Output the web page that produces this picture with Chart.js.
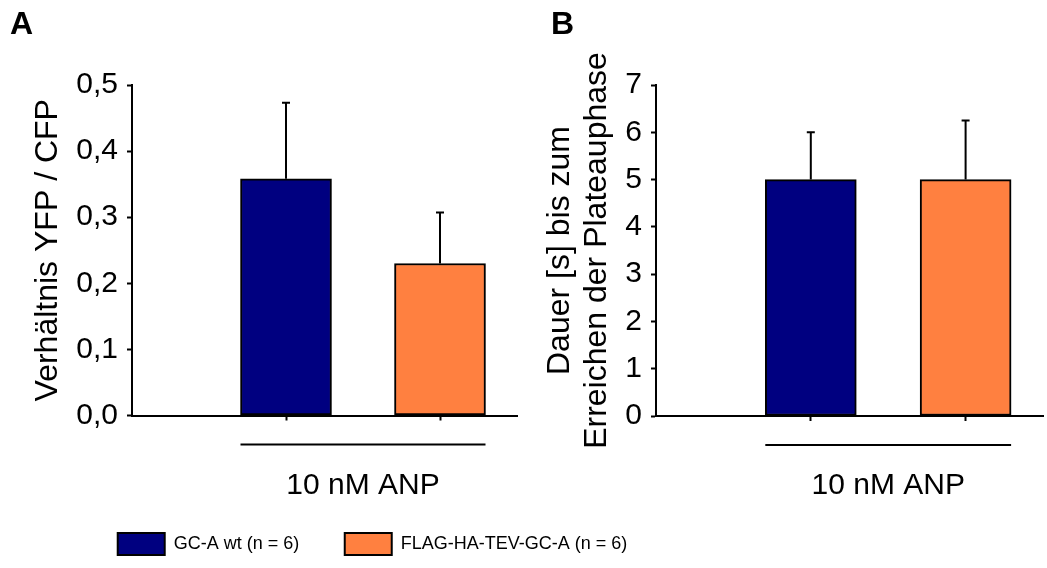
<!DOCTYPE html>
<html lang="de">
<head>
    <meta charset="UTF-8">
    <title>FRET GC-A</title>
    <script src="https://cdn.jsdelivr.net/npm/chart.js"></script>
    <style>
        body {
            margin: 0;
            background: #fff;
        }
        .figure {
            position: relative;
            width: 1047px;
            height: 568px;
        }
        .figure canvas {
            position: absolute;
            top: 0;
        }
        #chartA { left: 0; }
        #chartB { left: 520px; }
    </style>
</head>
<body>
    <div class="figure">
        <canvas id="chartA" width="735" height="568"></canvas>
        <canvas id="chartB" width="527" height="568"></canvas>
    </div>
    <script>
        // data
        const groups = ['GC-A wt (n = 6)', 'FLAG-HA-TEV-GC-A (n = 6)'];
        const condition = '10 nM ANP';
        const ratioMeans = [0.358, 0.23];
        const ratioErrors = [0.115, 0.077];
        const plateauMeans = [5.0, 5.0];
        const plateauErrors = [1.0, 1.25];
        const colors = ['#000080', '#ff8040'];

        // six slots on the x axis, bars in slot 2 and 4, condition label in between
        const slotLabels = ['', '', '', condition, '', ''];
        const barSlots = [2, 4];

        Chart.defaults.color = '#000';
        Chart.defaults.font.family = "'Liberation Sans', Arial, sans-serif";

        function buildDatasets(means, errors) {
            return groups.map((name, i) => {
                const data = slotLabels.map(() => null);
                data[barSlots[i]] = means[i];
                const err = slotLabels.map(() => null);
                err[barSlots[i]] = errors[i];
                return {
                    label: name,
                    data: data,
                    errors: err,
                    backgroundColor: colors[i],
                    borderColor: '#000',
                    borderWidth: 2,
                    borderSkipped: false,
                    barThickness: 91,
                    skipNull: true
                };
            });
        }

        const errorBars = {
            id: 'errorBars',
            afterDatasetsDraw(chart) {
                const ctx = chart.ctx;
                const y = chart.scales.y;
                ctx.save();
                ctx.strokeStyle = '#000';
                ctx.lineWidth = 2;
                chart.data.datasets.forEach((ds, i) => {
                    chart.getDatasetMeta(i).data.forEach((bar, j) => {
                        if (ds.data[j] == null) return;
                        const top = y.getPixelForValue(ds.data[j] + ds.errors[j]);
                        ctx.beginPath();
                        ctx.moveTo(bar.x, bar.y);
                        ctx.lineTo(bar.x, top);
                        ctx.moveTo(bar.x - 4, top);
                        ctx.lineTo(bar.x + 4, top);
                        ctx.stroke();
                    });
                });
                ctx.restore();
            }
        };

        // line under both bars marking the shared condition
        const conditionLine = {
            id: 'conditionLine',
            afterDraw(chart) {
                let left = Infinity, right = -Infinity;
                chart.data.datasets.forEach((ds, i) => {
                    chart.getDatasetMeta(i).data.forEach((bar, j) => {
                        if (ds.data[j] == null) return;
                        left = Math.min(left, bar.x - bar.width / 2);
                        right = Math.max(right, bar.x + bar.width / 2);
                    });
                });
                const ctx = chart.ctx;
                const y = chart.chartArea.bottom + 29;
                ctx.save();
                ctx.strokeStyle = '#000';
                ctx.lineWidth = 2;
                ctx.beginPath();
                ctx.moveTo(left, y);
                ctx.lineTo(right, y);
                ctx.stroke();
                ctx.restore();
            }
        };

        function xScale() {
            return {
                type: 'category',
                offset: false,
                grid: {
                    offset: false,
                    drawOnChartArea: false,
                    drawTicks: true,
                    tickLength: 5,
                    tickWidth: 2,
                    tickColor: c => barSlots.includes(c.index) ? '#000' : 'rgba(0,0,0,0)'
                },
                border: { color: '#000', width: 2 },
                ticks: {
                    autoSkip: false,
                    maxRotation: 0,
                    // mirrored labels are not clipped to the axis box, so the
                    // label can sit below it, next to the legend
                    mirror: true,
                    padding: -88,
                    font: { size: 30 }
                },
                afterFit: s => {
                    s.height = 72;
                    s.paddingLeft = 0;
                    s.paddingRight = 0;
                }
            };
        }

        function yScale(max, step, fmt, title, titlePad, width) {
            return {
                min: 0,
                max: max,
                grid: {
                    drawOnChartArea: false,
                    tickLength: 5,
                    tickWidth: 2,
                    tickColor: '#000'
                },
                border: { color: '#000', width: 2 },
                ticks: {
                    stepSize: step,
                    padding: 9,
                    font: { size: 30 },
                    callback: fmt
                },
                title: {
                    display: true,
                    text: title,
                    font: { size: 32, lineHeight: 1.16 },
                    padding: { top: titlePad, bottom: 0 }
                },
                afterFit: s => { s.width = width; }
            };
        }

        function panelTitle(letter) {
            return {
                display: true,
                text: letter,
                align: 'start',
                font: { size: 32, weight: 'bold', lineHeight: 1.2 },
                padding: { top: 6, bottom: 40.6 }
            };
        }

        new Chart(document.getElementById('chartA'), {
            type: 'bar',
            data: { labels: slotLabels, datasets: buildDatasets(ratioMeans, ratioErrors) },
            options: {
                responsive: false,
                animation: false,
                layout: { padding: { left: 10, right: 0, top: 0, bottom: 3 } },
                scales: {
                    x: xScale(),
                    y: yScale(0.5, 0.1, v => v.toFixed(1).replace('.', ','), 'Verhältnis YFP / CFP', 20, 122),
                    spare: {
                        type: 'linear',
                        position: 'right',
                        grid: { display: false },
                        border: { display: false },
                        ticks: { display: false },
                        afterFit: s => { s.width = 218; }
                    }
                },
                plugins: {
                    title: panelTitle('A'),
                    tooltip: { enabled: false },
                    legend: {
                        position: 'bottom',
                        labels: {
                            boxWidth: 47,
                            boxHeight: 22,
                            padding: 45.5,
                            font: { size: 18 }
                        }
                    }
                }
            },
            plugins: [errorBars, conditionLine]
        });

        new Chart(document.getElementById('chartB'), {
            type: 'bar',
            data: { labels: slotLabels, datasets: buildDatasets(plateauMeans, plateauErrors) },
            options: {
                responsive: false,
                animation: false,
                layout: { padding: { left: 31, right: 4, top: 0, bottom: 80 } },
                scales: {
                    x: xScale(),
                    y: yScale(7, 1, v => v, ['Dauer [s] bis zum', 'Erreichen der Plateauphase'], -9.5, 105)
                },
                plugins: {
                    title: panelTitle('B'),
                    tooltip: { enabled: false },
                    legend: { display: false }
                }
            },
            plugins: [errorBars, conditionLine]
        });
    </script>
</body>
</html>
